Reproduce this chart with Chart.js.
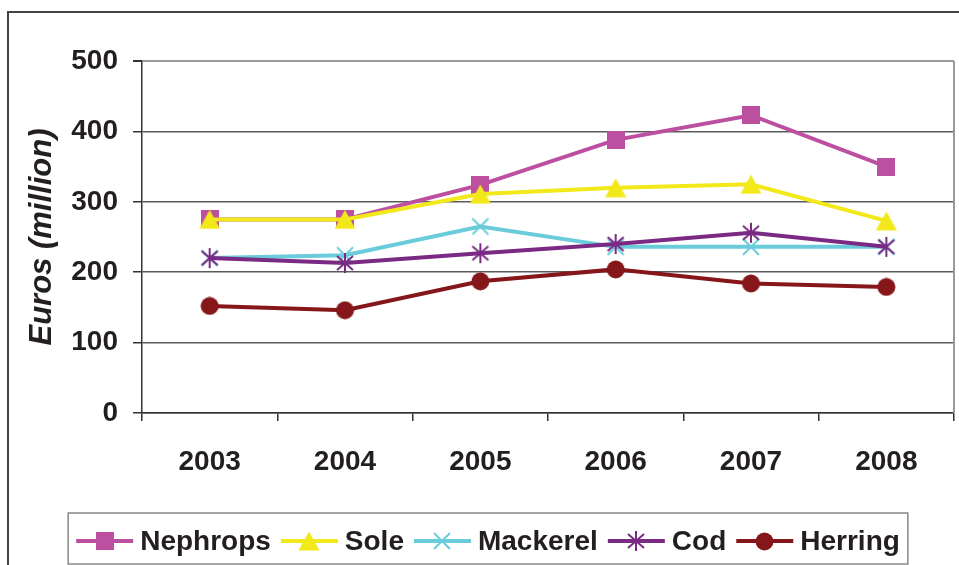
<!DOCTYPE html>
<html lang="en">
<head>
  <meta charset="UTF-8">
  <title>Euros (million) by species</title>
  <style>
    body { margin: 0; background: #ffffff; }
    #chart { display: block; }
  </style>
</head>
<body>
  <canvas id="chart" width="959" height="565"></canvas>

  <script src="https://cdn.jsdelivr.net/npm/chart.js"></script>
  <script>
    const years = ['2003', '2004', '2005', '2006', '2007', '2008'];
    const nephrops = [275, 275, 324, 388, 423, 350];
    const sole = [275, 275, 311, 320, 325, 273];
    const mackerel = [220, 224, 265, 236, 236, 236];
    const cod = [220, 213, 227, 240, 256, 236];
    const herring = [152, 146, 187, 204, 184, 179];
    const yTicks = [0, 100, 200, 300, 400, 500];

    // check whether the narrow font is installed
    function hasFont(name) {
      const c = document.createElement('canvas').getContext('2d');
      c.font = '30px monospace';
      const a = c.measureText('Nephrops 2003').width;
      c.font = '30px "' + name + '", monospace';
      return c.measureText('Nephrops 2003').width !== a;
    }
    const narrow = hasFont('Liberation Sans Narrow');
    const tickFont = narrow
      ? { family: '"Liberation Sans Narrow"', size: 30, weight: 'bold' }
      : { family: '"Liberation Sans", Arial, sans-serif', size: 28, weight: 'bold' };
    const legendFont = 'bold 28px "Liberation Sans", Arial, sans-serif';

    // marker images
    function marker(w, h, draw) {
      const c = document.createElement('canvas');
      c.width = w; c.height = h;
      draw(c.getContext('2d'));
      return c;
    }
    const squareMark = marker(18, 18, g => { g.fillStyle = '#BC4F9F'; g.fillRect(0, 0, 18, 18); });
    const triangleMark = marker(22, 20, g => {
      g.fillStyle = '#F2E81A';
      g.beginPath(); g.moveTo(0.5, 19.5); g.lineTo(11, 0.5); g.lineTo(21.5, 19.5); g.closePath(); g.fill();
    });
    const crossMark = marker(20, 20, g => {
      g.strokeStyle = '#6ACCDB'; g.lineWidth = 2;
      g.beginPath(); g.moveTo(2, 2); g.lineTo(18, 18); g.moveTo(18, 2); g.lineTo(2, 18); g.stroke();
    });
    const starMark = marker(20, 22, g => {
      g.strokeStyle = '#7B2A84'; g.lineWidth = 2;
      g.beginPath();
      g.moveTo(10, 1); g.lineTo(10, 21);
      g.moveTo(2, 4); g.lineTo(18, 18);
      g.moveTo(18, 4); g.lineTo(2, 18);
      g.stroke();
    });
    const circleMark = marker(19, 19, g => {
      g.fillStyle = '#85161A';
      g.beginPath(); g.arc(9.5, 9.5, 9, 0, Math.PI * 2); g.fill();
    });

    const series = [
      { label: 'Nephrops', data: nephrops, color: '#BC4F9F', mark: squareMark, order: 5 },
      { label: 'Sole', data: sole, color: '#F2E81A', mark: triangleMark, order: 4 },
      { label: 'Mackerel', data: mackerel, color: '#6ACCDB', mark: crossMark, order: 3 },
      { label: 'Cod', data: cod, color: '#7B2A84', mark: starMark, order: 2 },
      { label: 'Herring', data: herring, color: '#85161A', mark: circleMark, order: 1 }
    ];

    // outer frame, plot border and the boxed legend
    const framePlugin = {
      id: 'frame',
      afterDraw(chart) {
        const ctx = chart.ctx;
        const area = chart.chartArea;
        ctx.save();
        ctx.strokeStyle = '#444';
        ctx.lineWidth = 2;
        ctx.beginPath();
        ctx.moveTo(8, 565); ctx.lineTo(8, 12); ctx.lineTo(959, 12);
        ctx.stroke();

        ctx.strokeStyle = '#9a9a9a';
        ctx.lineWidth = 2;
        ctx.beginPath();
        ctx.moveTo(area.right, area.top); ctx.lineTo(area.right, area.bottom);
        ctx.stroke();

        // legend
        ctx.font = legendFont;
        const lineLen = 57, gap = 7, after = 10;
        let total = -after;
        series.forEach(s => { total += lineLen + gap + ctx.measureText(s.label).width + after; });
        let x = 488 - total / 2;
        const y = 541;
        ctx.strokeStyle = '#888';
        ctx.lineWidth = 1.5;
        ctx.strokeRect(x - 8, 513, total + 16, 51);
        ctx.textBaseline = 'middle';
        ctx.fillStyle = '#231f20';
        series.forEach(s => {
          ctx.strokeStyle = s.color;
          ctx.lineWidth = 4;
          ctx.beginPath(); ctx.moveTo(x, y); ctx.lineTo(x + lineLen, y); ctx.stroke();
          ctx.drawImage(s.mark, Math.round(x + lineLen / 2 - s.mark.width / 2), Math.round(y - s.mark.height / 2));
          x += lineLen + gap;
          ctx.fillText(s.label, x, y + 1);
          x += ctx.measureText(s.label).width + after;
        });
        ctx.restore();
      }
    };

    new Chart(document.getElementById('chart'), {
      type: 'line',
      data: {
        labels: years,
        datasets: series.map(s => ({
          label: s.label,
          data: s.data,
          borderColor: s.color,
          backgroundColor: s.color,
          borderWidth: 4,
          pointStyle: s.mark,
          pointRadius: 10,
          tension: 0,
          order: s.order
        }))
      },
      options: {
        responsive: false,
        animation: false,
        layout: { autoPadding: false, padding: { left: 0, top: 61, right: 5, bottom: 0 } },
        plugins: { legend: { display: false }, tooltip: { enabled: false } },
        scales: {
          x: {
            offset: true,
            afterFit: s => { s.height = 152; s.paddingLeft = 0; s.paddingRight = 0; },
            grid: {
              offset: true,
              drawOnChartArea: false,
              tickLength: 8,
              color: '#333',
              lineWidth: 1.5
            },
            border: { color: '#333', width: 1.5 },
            ticks: { color: '#231f20', font: tickFont, padding: 24, maxRotation: 0 }
          },
          y: {
            min: 0,
            max: 500,
            afterFit: s => { s.width = 142; },
            afterBuildTicks: s => { s.ticks = yTicks.map(v => ({ value: v })); },
            grid: {
              tickLength: 9,
              color: c => (c.tick && c.tick.value === 500 ? '#9a9a9a' : '#5a5a5a'),
              tickColor: '#333',
              lineWidth: c => (c.tick && c.tick.value === 500 ? 2 : 1.5)
            },
            border: { color: '#333', width: 1.5 },
            ticks: { color: '#231f20', font: tickFont, padding: 15 },
            title: {
              display: true,
              text: 'Euros (million)',
              color: '#231f20',
              font: { family: '"Liberation Sans", Arial, sans-serif', size: 31, weight: 'bold', style: 'italic' },
              padding: { top: 24, bottom: 0 }
            }
          }
        }
      },
      plugins: [framePlugin]
    });
  </script>
</body>
</html>
